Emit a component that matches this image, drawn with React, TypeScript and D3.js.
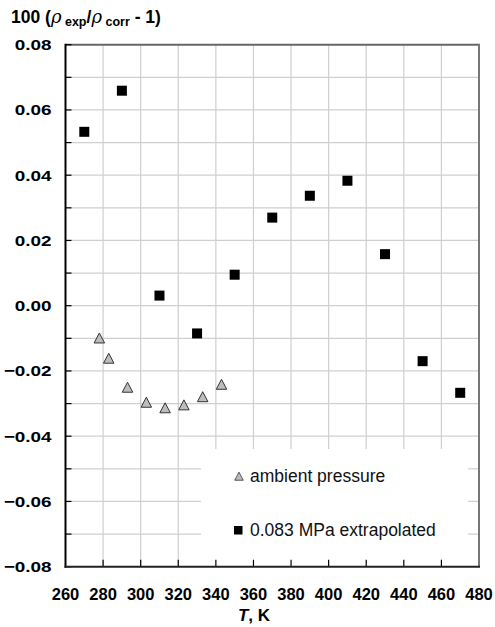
import React from "react";
import * as d3 from "d3";

const ambientT = [278, 283, 293, 303, 313, 323, 333, 343];
const ambientDev = [-0.0102, -0.0164, -0.0253, -0.0299, -0.0316, -0.0307, -0.0282, -0.0244];
const extrapT = [270, 290, 310, 330, 350, 370, 390, 410, 430, 450, 470];
const extrapDev = [0.0533, 0.0659, 0.0031, -0.0085, 0.0095, 0.0270, 0.0337, 0.0383, 0.0158, -0.0170, -0.0267];
const xTicks = [260, 280, 300, 320, 340, 360, 380, 400, 420, 440, 460, 480];
const yTicks = [0.08, 0.06, 0.04, 0.02, 0.0, -0.02, -0.04, -0.06, -0.08];
const yMinor = d3.range(-8, 9).map((v) => v / 100);
const legendLabels = ["ambient pressure", "0.083 MPa extrapolated"];

const W = 495, H = 627;
const L = 65.5, R = 479, T = 44.7, B = 566.7;
const FONT = "'Liberation Sans', Arial, Helvetica, sans-serif";

export default function App() {
  const x = d3.scaleLinear().domain([260, 480]).range([L, R]);
  const y = d3.scaleLinear().domain([-0.08, 0.08]).range([B, T]);
  const fmt = (v: number) => (Math.abs(v) < 1e-9 ? "0.00" : d3.format(".2f")(v));
  const tri = (cx: number, cy: number, s: number) => {
    const h = s * 0.95;
    return `M${cx},${cy - h * 0.6}L${cx + s / 2},${cy + h * 0.4}L${cx - s / 2},${cy + h * 0.4}Z`;
  };
  const lg = { x0: 201, x1: 468, y0: 449 };
  return (
    <svg width={W} height={H} style={{ position: "absolute", left: 0, top: 0, background: "#fff" }} fontFamily={FONT}>
      {/* grid */}
      {xTicks.slice(1, -1).map((t) => (
        <line key={"gx" + t} x1={x(t)} x2={x(t)} y1={T} y2={B} stroke="#cfcfcf" strokeWidth={1.2} />
      ))}
      {yMinor.slice(1, -1).map((t) => (
        <line key={"gy" + t} x1={L} x2={R} y1={y(t)} y2={y(t)} stroke="#cfcfcf" strokeWidth={1.2} />
      ))}
      {/* legend box */}
      <rect x={lg.x0} y={lg.y0} width={lg.x1 - lg.x0} height={B - lg.y0} fill="#fff" />
      <path d={tri(239, 477, 8.5)} fill="#bdbdbd" stroke="#333" strokeWidth={0.8} />
      <text x={250} y={482} fontSize={17.5} fill="#111">{legendLabels[0]}</text>
      <rect x={234} y={526} width={8.5} height={8.5} fill="#000" />
      <text x={250} y={535.5} fontSize={17.5} fill="#111">{legendLabels[1]}</text>
      {/* borders */}
      <line x1={L} x2={R} y1={T} y2={T} stroke="#666" strokeWidth={2} />
      <line x1={R} x2={R} y1={T - 1} y2={B} stroke="#777" strokeWidth={2} />
      {/* ticks */}
      {yMinor.map((t) => (
        <line key={"ty" + t} x1={L} x2={L + 6} y1={y(t)} y2={y(t)} stroke="#000" strokeWidth={1.2} />
      ))}
      {xTicks.slice(1, -1).map((t) => (
        <line key={"tx" + t} x1={x(t)} x2={x(t)} y1={B} y2={B - 7} stroke="#000" strokeWidth={1.2} />
      ))}
      <line x1={L} x2={L} y1={T - 1} y2={B + 1} stroke="#000" strokeWidth={2} />
      <line x1={L - 1} x2={R + 1} y1={B} y2={B} stroke="#222" strokeWidth={2} />
      {/* data */}
      {ambientT.map((t, i) => (
        <path key={"a" + i} d={tri(x(t), y(ambientDev[i]), 10.5)} fill="#bdbdbd" stroke="#333" strokeWidth={1} />
      ))}
      {extrapT.map((t, i) => (
        <rect key={"e" + i} x={x(t) - 5} y={y(extrapDev[i]) - 5} width={10} height={10} fill="#000" />
      ))}
      {/* y tick labels */}
      {yTicks.map((t) => (
        <text key={"ly" + t} transform={`translate(51.5,${y(t) + 5.5}) scale(1.22,1)`} textAnchor="end" fontSize={15.5} fontWeight="bold" fill="#000">
          {fmt(t)}
        </text>
      ))}
      {/* x tick labels */}
      {xTicks.map((t) => (
        <text key={"lx" + t} x={x(t)} y={600} textAnchor="middle" fontSize={16.5} fontWeight="bold" fill="#000">
          {t}
        </text>
      ))}
      {/* axis titles */}
      <text x={11} y={23} fontSize={17.5} fontWeight="bold" fill="#000">
        <tspan>100 (</tspan>
        <tspan fontStyle="italic" fontWeight="normal" fontFamily="'DejaVu Serif', serif" fontSize={18}>ρ</tspan>
        <tspan fontSize={12.5} dy={3}> exp</tspan>
        <tspan dy={-3}>/</tspan>
        <tspan fontStyle="italic" fontWeight="normal" fontFamily="'DejaVu Serif', serif" fontSize={18}>ρ</tspan>
        <tspan fontSize={12.5} dy={3}> corr</tspan>
        <tspan dy={-3}> - 1)</tspan>
      </text>
      <text x={254} y={621} textAnchor="middle" fontSize={17} fontWeight="bold" fill="#000">
        <tspan fontStyle="italic">T</tspan>
        <tspan>, K</tspan>
      </text>
    </svg>
  );
}
